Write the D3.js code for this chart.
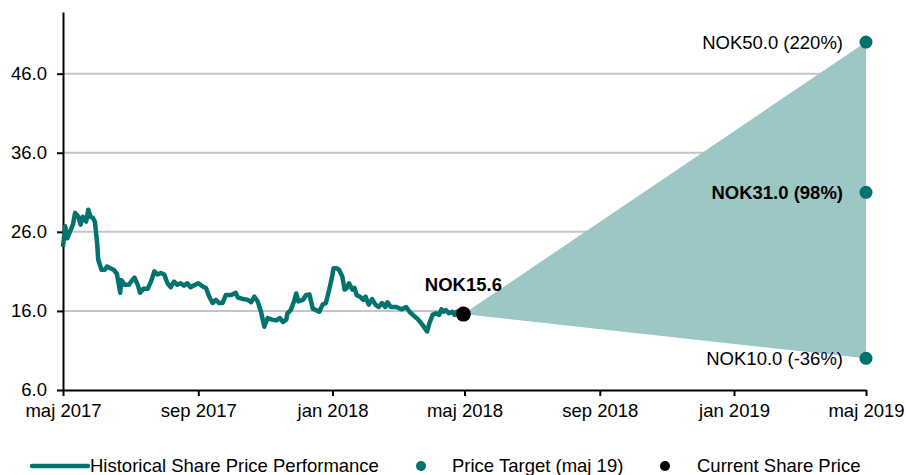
<!DOCTYPE html>
<html>
<head>
<meta charset="utf-8">
<script src="https://cdn.jsdelivr.net/npm/d3@7"></script>
<style>
  body { margin: 0; background: #fff; }
  svg { font-family: Arial, "Liberation Sans", sans-serif; }
</style>
</head>
<body>
<svg id="chart" width="906" height="475"></svg>
<script>
// historical share price (NOK)
const priceDates = [
  '2017-05-01','2017-05-03','2017-05-05','2017-05-07','2017-05-10','2017-05-12','2017-05-15','2017-05-17',
  '2017-05-19','2017-05-22','2017-05-24','2017-05-26','2017-05-28','2017-05-30','2017-06-01','2017-06-02',
  '2017-06-05','2017-06-08','2017-06-10','2017-06-13','2017-06-16','2017-06-19','2017-06-20','2017-06-22',
  '2017-06-23','2017-06-26','2017-06-30','2017-07-03','2017-07-05','2017-07-08','2017-07-10','2017-07-13',
  '2017-07-17','2017-07-20','2017-07-23','2017-07-26','2017-07-29','2017-08-01','2017-08-04','2017-08-07',
  '2017-08-10','2017-08-13','2017-08-16','2017-08-19','2017-08-22','2017-08-25','2017-08-29','2017-09-01',
  '2017-09-05','2017-09-08','2017-09-11','2017-09-14','2017-09-17','2017-09-20','2017-09-23','2017-09-26',
  '2017-10-01','2017-10-05','2017-10-07','2017-10-12','2017-10-16','2017-10-19','2017-10-22','2017-10-25',
  '2017-10-28','2017-10-31','2017-11-03','2017-11-07','2017-11-11','2017-11-14','2017-11-17','2017-11-20',
  '2017-11-21','2017-11-24','2017-11-27','2017-11-29','2017-12-01','2017-12-05','2017-12-08','2017-12-11',
  '2017-12-14','2017-12-17','2017-12-20','2017-12-23','2017-12-26','2017-12-29','2017-12-31','2018-01-02',
  '2018-01-05','2018-01-07','2018-01-10','2018-01-12','2018-01-14','2018-01-16','2018-01-19','2018-01-21',
  '2018-01-23','2018-01-26','2018-01-29','2018-01-31','2018-02-03','2018-02-06','2018-02-09','2018-02-12',
  '2018-02-15','2018-02-18','2018-02-20','2018-02-23','2018-02-28','2018-03-05','2018-03-09','2018-03-12',
  '2018-03-15','2018-03-20','2018-03-24','2018-03-28','2018-03-30','2018-04-02','2018-04-05','2018-04-08',
  '2018-04-10','2018-04-12','2018-04-14','2018-04-17','2018-04-20','2018-04-22','2018-04-24','2018-04-26',
  '2018-04-30'
];
const priceValues = [
  24.1, 26.7, 25.2, 25.9, 26.9, 28.4, 27.9, 26.9,
  27.9, 27.3, 28.8, 27.9, 27.8, 27.3, 24.6, 22.5,
  21.2, 21.2, 21.6, 21.4, 21.2, 20.7, 19.9, 18.3,
  19.9, 19.3, 19.3, 19.9, 20.2, 19.3, 18.3, 18.8,
  18.8, 19.7, 21.0, 20.6, 20.8, 20.6, 19.5, 19.0,
  19.7, 19.3, 19.5, 19.2, 19.5, 19.0, 19.3, 19.5,
  19.1, 18.9, 17.8, 17.0, 17.4, 17.0, 17.0, 18.0,
  18.0, 18.3, 17.7, 17.5, 17.4, 17.1, 17.8, 17.2,
  15.9, 14.0, 15.1, 14.9, 14.8, 15.1, 14.6, 14.9,
  15.7, 16.1, 17.2, 18.2, 17.2, 17.4, 18.0, 18.1,
  16.3, 16.1, 15.9, 16.8, 17.0, 18.7, 19.9, 21.4,
  21.4, 21.2, 20.3, 18.7, 18.9, 19.5, 18.7, 18.9,
  18.0, 17.8, 17.4, 17.8, 16.8, 17.5, 16.8, 16.5,
  17.0, 16.5, 17.1, 16.5, 16.5, 16.2, 16.5, 15.9,
  15.5, 14.9, 14.2, 13.4, 14.4, 15.5, 15.7, 15.5,
  16.2, 15.9, 16.1, 15.7, 15.9, 15.5, 15.9, 15.9,
  15.6
];

// current price and targets
const currentDate = '2018-04-30';
const currentPrice = 15.6;
const targetDate = '2019-05-01';
const targetValues = [50.0, 31.0, 10.0];
const targetLabels = ['NOK50.0 (220%)', 'NOK31.0 (98%)', 'NOK10.0 (-36%)'];
const targetBold = [false, true, false];

// axes
const xTickDates = ['2017-05-01','2017-09-01','2018-01-01','2018-05-01','2018-09-01','2019-01-01','2019-05-01'];
const xTickLabels = ['maj 2017','sep 2017','jan 2018','maj 2018','sep 2018','jan 2019','maj 2019'];
const yTicks = [6, 16, 26, 36, 46];

const legendLabels = ['Historical Share Price Performance', 'Price Target (maj 19)', 'Current Share Price'];

const parse = d3.timeParse('%Y-%m-%d');
const teal = '#00736f';
const fanFill = '#9cc7c6';
const fontSize = 18.5;

const svg = d3.select('#chart');
const x = d3.scaleTime()
  .domain([parse('2017-05-01'), parse('2019-05-01')])
  .range([63, 866]);
const y = d3.scaleLinear()
  .domain([6, 53.8])
  .range([390, 12]);

// gridlines
svg.append('g')
  .selectAll('line')
  .data(yTicks.slice(1))
  .join('line')
  .attr('x1', 63)
  .attr('x2', 866)
  .attr('y1', d => y(d))
  .attr('y2', d => y(d))
  .attr('stroke', '#c4c4c4')
  .attr('stroke-width', 2);

// fan from current price to the targets
const fanPts = [
  { date: parse(currentDate), value: currentPrice },
  { date: parse(targetDate), value: d3.max(targetValues) },
  { date: parse(targetDate), value: d3.min(targetValues) }
];
const fanLine = d3.line().x(d => x(d.date)).y(d => y(d.value));
svg.append('path')
  .datum(fanPts)
  .attr('d', d => fanLine(d) + 'Z')
  .attr('fill', fanFill);

// axes
const xAxis = d3.axisBottom(x)
  .tickValues(xTickDates.map(parse))
  .tickFormat((d, i) => xTickLabels[i])
  .tickSize(6)
  .tickSizeOuter(0)
  .tickPadding(8);
const gx = svg.append('g').attr('transform', 'translate(0,390)').call(xAxis);

const yAxis = d3.axisLeft(y)
  .tickValues(yTicks)
  .tickFormat(d3.format('.1f'))
  .tickSize(6)
  .tickSizeOuter(0)
  .tickPadding(10);
const gy = svg.append('g').attr('transform', 'translate(63,0)').call(yAxis);

[gx, gy].forEach(g => {
  g.select('.domain').attr('stroke', '#000').attr('stroke-width', 2);
  g.selectAll('.tick line').attr('stroke', '#000').attr('stroke-width', 2);
  g.selectAll('.tick text')
    .attr('fill', '#000')
    .attr('font-size', fontSize)
    .attr('font-family', 'Arial, "Liberation Sans", sans-serif');
});

// price line
const priceData = priceDates.map((d, i) => ({ date: parse(d), value: priceValues[i] }));
svg.append('path')
  .datum(priceData)
  .attr('d', d3.line().x(d => x(d.date)).y(d => y(d.value)))
  .attr('fill', 'none')
  .attr('stroke', teal)
  .attr('stroke-width', 4.5)
  .attr('stroke-linejoin', 'round');

// current price dot + label
svg.append('circle')
  .attr('cx', x(parse(currentDate)))
  .attr('cy', y(currentPrice))
  .attr('r', 7.5)
  .attr('fill', '#000');
svg.append('text')
  .attr('x', x(parse(currentDate)))
  .attr('y', y(currentPrice) - 23)
  .attr('text-anchor', 'middle')
  .attr('font-size', fontSize)
  .attr('font-weight', 'bold')
  .text('NOK' + currentPrice.toFixed(1));

// target dots + labels
svg.append('g')
  .selectAll('circle')
  .data(targetValues)
  .join('circle')
  .attr('cx', x(parse(targetDate)))
  .attr('cy', d => y(d))
  .attr('r', 6.5)
  .attr('fill', teal);
svg.append('g')
  .selectAll('text')
  .data(targetValues)
  .join('text')
  .attr('x', x(parse(targetDate)) - 23)
  .attr('y', d => y(d))
  .attr('dy', '0.36em')
  .attr('text-anchor', 'end')
  .attr('font-size', fontSize)
  .attr('font-weight', (d, i) => (targetBold[i] ? 'bold' : 'normal'))
  .text((d, i) => targetLabels[i]);

// legend
const leg = svg.append('g').attr('font-size', fontSize);
leg.append('line')
  .attr('x1', 32).attr('x2', 88)
  .attr('y1', 466).attr('y2', 466)
  .attr('stroke', teal)
  .attr('stroke-width', 4.5)
  .attr('stroke-linecap', 'round');
leg.append('text').attr('x', 90).attr('y', 472).text(legendLabels[0]);
leg.append('circle').attr('cx', 421).attr('cy', 466).attr('r', 5).attr('fill', teal);
leg.append('text').attr('x', 452).attr('y', 472).text(legendLabels[1]);
leg.append('circle').attr('cx', 665).attr('cy', 466).attr('r', 5).attr('fill', '#000');
leg.append('text').attr('x', 697).attr('y', 472).text(legendLabels[2]);
</script>
</body>
</html>
